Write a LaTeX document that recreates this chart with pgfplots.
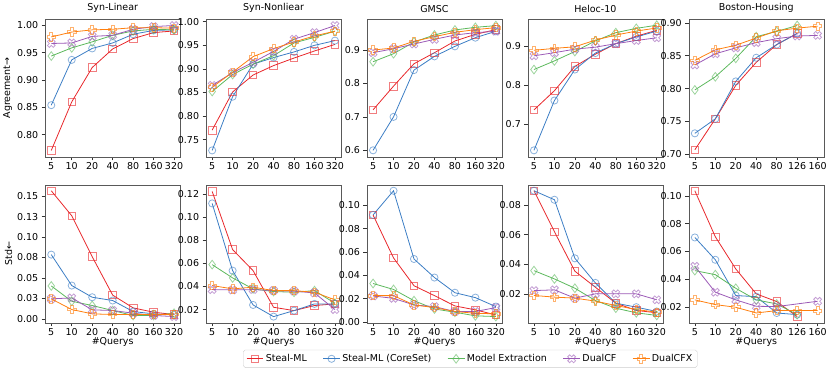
\documentclass[border=0pt]{standalone}
\usepackage{fontspec}
\setmainfont{DejaVu Sans}
\usepackage{pgfplots}
\pgfplotsset{compat=1.18}
\usepgfplotslibrary{groupplots}

\definecolor{cRed}{HTML}{E8262A}
\definecolor{cBlue}{HTML}{3B7DC4}
\definecolor{cGreen}{HTML}{5CB85C}
\definecolor{cPurple}{HTML}{9B59B6}
\definecolor{cOrange}{HTML}{FF7F0E}

\pgfdeclareplotmark{Pfill}{%
  \pgfpathmoveto{\pgfqpoint{-0.33\pgfplotmarksize}{\pgfplotmarksize}}%
  \pgfpathlineto{\pgfqpoint{0.33\pgfplotmarksize}{\pgfplotmarksize}}%
  \pgfpathlineto{\pgfqpoint{0.33\pgfplotmarksize}{0.33\pgfplotmarksize}}%
  \pgfpathlineto{\pgfqpoint{\pgfplotmarksize}{0.33\pgfplotmarksize}}%
  \pgfpathlineto{\pgfqpoint{\pgfplotmarksize}{-0.33\pgfplotmarksize}}%
  \pgfpathlineto{\pgfqpoint{0.33\pgfplotmarksize}{-0.33\pgfplotmarksize}}%
  \pgfpathlineto{\pgfqpoint{0.33\pgfplotmarksize}{-\pgfplotmarksize}}%
  \pgfpathlineto{\pgfqpoint{-0.33\pgfplotmarksize}{-\pgfplotmarksize}}%
  \pgfpathlineto{\pgfqpoint{-0.33\pgfplotmarksize}{-0.33\pgfplotmarksize}}%
  \pgfpathlineto{\pgfqpoint{-\pgfplotmarksize}{-0.33\pgfplotmarksize}}%
  \pgfpathlineto{\pgfqpoint{-\pgfplotmarksize}{0.33\pgfplotmarksize}}%
  \pgfpathlineto{\pgfqpoint{-0.33\pgfplotmarksize}{0.33\pgfplotmarksize}}%
  \pgfpathclose\pgfusepathqstroke}
\pgfdeclareplotmark{Xfill}{%
  \pgftransformrotate{45}%
  \pgfpathmoveto{\pgfqpoint{-0.33\pgfplotmarksize}{\pgfplotmarksize}}%
  \pgfpathlineto{\pgfqpoint{0.33\pgfplotmarksize}{\pgfplotmarksize}}%
  \pgfpathlineto{\pgfqpoint{0.33\pgfplotmarksize}{0.33\pgfplotmarksize}}%
  \pgfpathlineto{\pgfqpoint{\pgfplotmarksize}{0.33\pgfplotmarksize}}%
  \pgfpathlineto{\pgfqpoint{\pgfplotmarksize}{-0.33\pgfplotmarksize}}%
  \pgfpathlineto{\pgfqpoint{0.33\pgfplotmarksize}{-0.33\pgfplotmarksize}}%
  \pgfpathlineto{\pgfqpoint{0.33\pgfplotmarksize}{-\pgfplotmarksize}}%
  \pgfpathlineto{\pgfqpoint{-0.33\pgfplotmarksize}{-\pgfplotmarksize}}%
  \pgfpathlineto{\pgfqpoint{-0.33\pgfplotmarksize}{-0.33\pgfplotmarksize}}%
  \pgfpathlineto{\pgfqpoint{-\pgfplotmarksize}{-0.33\pgfplotmarksize}}%
  \pgfpathlineto{\pgfqpoint{-\pgfplotmarksize}{0.33\pgfplotmarksize}}%
  \pgfpathlineto{\pgfqpoint{-0.33\pgfplotmarksize}{0.33\pgfplotmarksize}}%
  \pgfpathclose\pgfusepathqstroke}

\pgfplotsset{
  sR/.style={cRed, line width=0.8pt, mark=square, mark size=3.8bp, mark options={draw opacity=0.6, fill=none, solid, line width=0.8pt}},
  sB/.style={cBlue, line width=0.8pt, mark=o, mark size=3.6bp, mark options={draw opacity=0.6, fill=none, solid, line width=0.8pt}},
  sG/.style={cGreen, line width=0.8pt, mark=diamond, mark size=4.4bp, mark options={draw opacity=0.6, fill=none, solid, line width=0.8pt}},
  sP/.style={cPurple, line width=0.8pt, mark=Xfill, mark size=4.2bp, mark options={draw opacity=0.6, fill=none, solid, line width=0.8pt}},
  sO/.style={cOrange, line width=0.8pt, mark=Pfill, mark size=4.2bp, mark options={draw opacity=0.6, fill=none, solid, line width=0.8pt}},
  prec2/.style={yticklabel style={/pgf/number format/fixed, /pgf/number format/fixed zerofill, /pgf/number format/precision=2}},
  prec1/.style={yticklabel style={/pgf/number format/fixed, /pgf/number format/fixed zerofill, /pgf/number format/precision=1}},
}

\begin{document}
\begin{tikzpicture}
\begin{groupplot}[
  group style={group size=5 by 2, horizontal sep=26bp, vertical sep=28bp},
  width=136bp, height=139bp, scale only axis,
  xmin=-0.3, xmax=6.3, xtick={0,...,6},
  xticklabels={5,10,20,40,80,160,320},
  scaled y ticks=false,
  tick align=outside, tick pos=left,
  major tick length=3.5bp,
  axis line style={black!65},
  every tick/.style={black!80, line width=0.6pt},
  tick label style={font=\fontsize{9.6}{11}\selectfont},
  xticklabel style={yshift=1.5bp},
  label style={font=\fontsize{9.6}{11}\selectfont},
  title style={font=\fontsize{9.6}{11}\selectfont, yshift=-3bp},
  /pgf/number format/assume math mode=true,
  xlabel style={yshift=5bp},
  ylabel style={yshift=-2bp},
]
%% ---------- Row 1 ----------
\nextgroupplot[title={Syn-Linear}, ylabel={Agreement→}, ymin=0.759, ymax=1.012, ytick={0.80,0.85,0.90,0.95,1.00}, prec2]
\addplot[sR] coordinates {(0,0.771)(1,0.860)(2,0.923)(3,0.957)(4,0.976)(5,0.987)(6,0.990)};
\addplot[sB] coordinates {(0,0.854)(1,0.937)(2,0.958)(3,0.968)(4,0.984)(5,0.991)(6,0.992)};
\addplot[sG] coordinates {(0,0.944)(1,0.959)(2,0.970)(3,0.982)(4,0.990)(5,0.993)(6,0.992)};
\addplot[sP] coordinates {(0,0.967)(1,0.968)(2,0.980)(3,0.982)(4,0.993)(5,0.998)(6,1.000)};
\addplot[sO] coordinates {(0,0.979)(1,0.988)(2,0.992)(3,0.993)(4,0.996)(5,0.996)(6,0.995)};

\nextgroupplot[title={Syn-Nonliear}, ymin=0.713, ymax=1.006, ytick={0.75,0.80,0.85,0.90,0.95,1.00}, prec2]
\addplot[sR] coordinates {(0,0.770)(1,0.851)(2,0.887)(3,0.907)(4,0.923)(5,0.938)(6,0.952)};
\addplot[sB] coordinates {(0,0.727)(1,0.841)(2,0.910)(3,0.924)(4,0.936)(5,0.950)(6,0.960)};
\addplot[sG] coordinates {(0,0.852)(1,0.888)(2,0.910)(3,0.928)(4,0.955)(5,0.967)(6,0.980)};
\addplot[sP] coordinates {(0,0.865)(1,0.892)(2,0.914)(3,0.937)(4,0.963)(5,0.977)(6,0.992)};
\addplot[sO] coordinates {(0,0.861)(1,0.893)(2,0.926)(3,0.943)(4,0.957)(5,0.970)(6,0.980)};

\nextgroupplot[title={GMSC}, ymin=0.580, ymax=0.993, ytick={0.6,0.7,0.8,0.9}, prec1]
\addplot[sR] coordinates {(0,0.721)(1,0.792)(2,0.859)(3,0.892)(4,0.927)(5,0.947)(6,0.961)};
\addplot[sB] coordinates {(0,0.600)(1,0.700)(2,0.840)(3,0.881)(4,0.911)(5,0.937)(6,0.956)};
\addplot[sG] coordinates {(0,0.865)(1,0.889)(2,0.924)(3,0.945)(4,0.960)(5,0.968)(6,0.973)};
\addplot[sP] coordinates {(0,0.892)(1,0.904)(2,0.918)(3,0.932)(4,0.945)(5,0.952)(6,0.956)};
\addplot[sO] coordinates {(0,0.900)(1,0.906)(2,0.926)(3,0.940)(4,0.953)(5,0.961)(6,0.967)};

\nextgroupplot[title={Heloc-10}, ymin=0.617, ymax=0.969, ytick={0.7,0.8,0.9}, prec1]
\addplot[sR] coordinates {(0,0.737)(1,0.786)(2,0.848)(3,0.879)(4,0.906)(5,0.925)(6,0.940)};
\addplot[sB] coordinates {(0,0.634)(1,0.761)(2,0.840)(3,0.882)(4,0.906)(5,0.923)(6,0.938)};
\addplot[sG] coordinates {(0,0.840)(1,0.862)(2,0.886)(3,0.913)(4,0.934)(5,0.945)(6,0.953)};
\addplot[sP] coordinates {(0,0.875)(1,0.883)(2,0.892)(3,0.897)(4,0.906)(5,0.914)(6,0.921)};
\addplot[sO] coordinates {(0,0.889)(1,0.894)(2,0.898)(3,0.915)(4,0.928)(5,0.938)(6,0.946)};

\nextgroupplot[title={Boston-Housing}, ymin=0.696, ymax=0.906, ytick={0.70,0.75,0.80,0.85,0.90}, prec2, xticklabels={5,10,20,40,80,126,160}]
\addplot[sR] coordinates {(0,0.707)(1,0.754)(2,0.805)(3,0.840)(4,0.867)(5,0.884)};
\addplot[sB] coordinates {(0,0.732)(1,0.754)(2,0.811)(3,0.847)(4,0.867)(5,0.884)};
\addplot[sG] coordinates {(0,0.798)(1,0.818)(2,0.846)(3,0.879)(4,0.887)(5,0.896)};
\addplot[sP] coordinates {(0,0.836)(1,0.853)(2,0.862)(3,0.870)(4,0.876)(5,0.880)(6,0.881)};
\addplot[sO] coordinates {(0,0.843)(1,0.859)(2,0.866)(3,0.877)(4,0.888)(5,0.892)(6,0.895)};

%% ---------- Row 2 ----------
\nextgroupplot[xlabel={\#Querys}, ylabel={Std←}, ymin=-0.0049, ymax=0.1638,
  ytick={0,0.025,0.05,0.075,0.1,0.125,0.15},
  yticklabels={0.00,0.03,0.05,0.08,0.10,0.13,0.15}]
\addplot[sR] coordinates {(0,0.1565)(1,0.126)(2,0.076)(3,0.029)(4,0.0134)(5,0.0081)(6,0.0053)};
\addplot[sB] coordinates {(0,0.0785)(1,0.0407)(2,0.0264)(3,0.0224)(4,0.0089)(5,0.0061)(6,0.0049)};
\addplot[sG] coordinates {(0,0.0402)(1,0.0215)(2,0.0163)(3,0.0102)(4,0.0041)(5,0.0041)(6,0.0069)};
\addplot[sP] coordinates {(0,0.0244)(1,0.0256)(2,0.011)(3,0.0102)(4,0.0069)(5,0.0041)(6,0.0028)};
\addplot[sO] coordinates {(0,0.0244)(1,0.0114)(2,0.0061)(3,0.0053)(4,0.0053)(5,0.0053)(6,0.0053)};

\nextgroupplot[xlabel={\#Querys}, ymin=0.0085, ymax=0.128, ytick={0.02,0.04,0.06,0.08,0.10,0.12}, prec2]
\addplot[sR] coordinates {(0,0.1223)(1,0.0719)(2,0.0537)(3,0.022)(4,0.0191)(5,0.0235)(6,0.0249)};
\addplot[sB] coordinates {(0,0.1119)(1,0.0537)(2,0.024)(3,0.0139)(4,0.0191)(5,0.0249)(6,0.0249)};
\addplot[sG] coordinates {(0,0.0589)(1,0.0474)(2,0.0379)(3,0.0356)(4,0.035)(5,0.0364)(6,0.0255)};
\addplot[sP] coordinates {(0,0.0373)(1,0.037)(2,0.0373)(3,0.0364)(4,0.0359)(5,0.0344)(6,0.020)};
\addplot[sO] coordinates {(0,0.0408)(1,0.0379)(2,0.0394)(3,0.0364)(4,0.0364)(5,0.035)(6,0.0284)};

\nextgroupplot[xlabel={\#Querys}, ymin=-0.0006, ymax=0.1176, ytick={0,0.02,0.04,0.06,0.08,0.10}, prec2,
  legend columns=5,
  legend style={at={(0.765,-0.195)}, anchor=north, draw=black!20, rounded corners=2pt,
    font=\fontsize{9.6}{11}\selectfont, /tikz/every even column/.append style={column sep=14bp},
    inner xsep=3bp, inner ysep=2.5bp},
  legend cell align=left]
\addplot[sR] coordinates {(0,0.0918)(1,0.055)(2,0.0312)(3,0.0227)(4,0.0139)(5,0.0105)(6,0.0062)};
\addplot[sB] coordinates {(0,0.0918)(1,0.1125)(2,0.0541)(3,0.0382)(4,0.0252)(5,0.021)(6,0.0133)};
\addplot[sG] coordinates {(0,0.0331)(1,0.028)(2,0.0184)(3,0.0113)(4,0.0085)(5,0.0054)(6,0.0048)};
\addplot[sP] coordinates {(0,0.0224)(1,0.0204)(2,0.0147)(3,0.0133)(4,0.0091)(5,0.0091)(6,0.0125)};
\addplot[sO] coordinates {(0,0.0227)(1,0.0227)(2,0.0147)(3,0.0125)(4,0.0091)(5,0.0076)(6,0.0071)};
\legend{Steal-ML, Steal-ML (CoreSet), Model Extraction, DualCF, DualCFX}

\nextgroupplot[xlabel={\#Querys}, ymin=0.0004, ymax=0.0937, ytick={0.02,0.04,0.06,0.08}, prec2]
\addplot[sR] coordinates {(0,0.0897)(1,0.062)(2,0.0353)(3,0.0245)(4,0.0137)(5,0.0088)(6,0.0072)};
\addplot[sB] coordinates {(0,0.0897)(1,0.0836)(2,0.044)(3,0.0274)(4,0.0137)(5,0.011)(6,0.0081)};
\addplot[sG] coordinates {(0,0.0357)(1,0.0301)(2,0.0238)(3,0.0155)(4,0.0103)(5,0.0072)(6,0.0054)};
\addplot[sP] coordinates {(0,0.0222)(1,0.0227)(2,0.0171)(3,0.020)(4,0.020)(5,0.020)(6,0.016)};
\addplot[sO] coordinates {(0,0.0189)(1,0.0178)(2,0.0171)(3,0.0151)(4,0.0121)(5,0.0094)(6,0.0076)};

\nextgroupplot[xlabel={\#Querys}, ymin=0.0088, ymax=0.1079, ytick={0.02,0.04,0.06,0.08,0.10}, prec2, xticklabels={5,10,20,40,80,126,160}]
\addplot[sR] coordinates {(0,0.1036)(1,0.0706)(2,0.0475)(3,0.0296)(4,0.0241)(5,0.0133)};
\addplot[sB] coordinates {(0,0.0701)(1,0.0541)(2,0.0284)(3,0.0276)(4,0.0159)(5,0.0147)};
\addplot[sG] coordinates {(0,0.0463)(1,0.0434)(2,0.0336)(3,0.0253)(4,0.0224)(5,0.0147)};
\addplot[sP] coordinates {(0,0.0494)(1,0.0308)(2,0.0253)(3,0.0207)(4,0.0205)(6,0.0243)};
\addplot[sO] coordinates {(0,0.0253)(1,0.0219)(2,0.020)(3,0.0159)(4,0.0176)(5,0.0176)(6,0.0176)};
\end{groupplot}
\end{tikzpicture}
\end{document}
